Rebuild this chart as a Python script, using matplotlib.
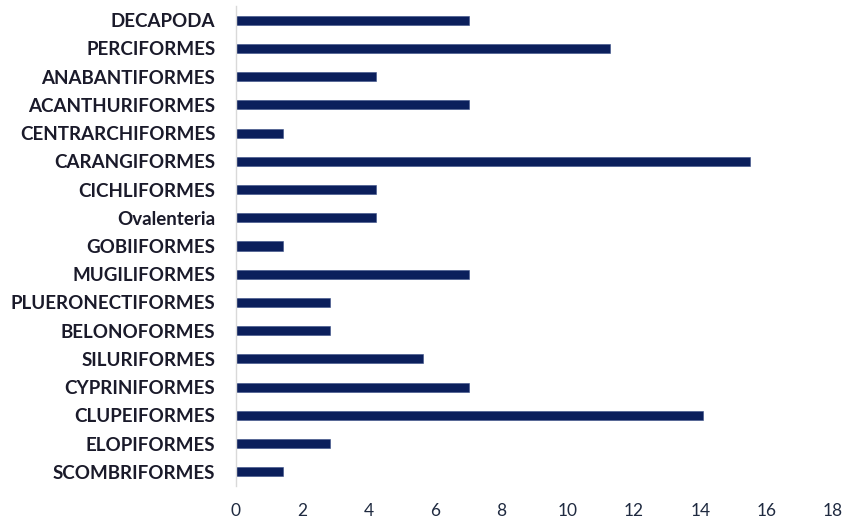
import matplotlib
matplotlib.use("Agg")
import matplotlib.pyplot as plt

categories = ["DECAPODA", "PERCIFORMES", "ANABANTIFORMES", "ACANTHURIFORMES",
              "CENTRARCHIFORMES", "CARANGIFORMES", "CICHLIFORMES", "Ovalenteria",
              "GOBIIFORMES", "MUGILIFORMES", "PLUERONECTIFORMES", "BELONOFORMES",
              "SILURIFORMES", "CYPRINIFORMES", "CLUPEIFORMES", "ELOPIFORMES",
              "SCOMBRIFORMES"]
values = [7.04, 11.27, 4.23, 7.04, 1.41, 15.49, 4.23, 4.23, 1.41, 7.04,
          2.82, 2.82, 5.63, 7.04, 14.08, 2.82, 1.41]
xticks = [0, 2, 4, 6, 8, 10, 12, 14, 16, 18]

fig = plt.figure(figsize=(8.45, 5.25), dpi=100)
ax = fig.add_axes([236/845, 39/525, 597/845, 480/525])

pos = list(range(len(categories)))
ax.barh(pos, values, height=0.32, color="#0b1f5c", edgecolor="#3a4f86", linewidth=0.4)
ax.set_ylim(len(categories) - 0.5, -0.5)
ax.set_xlim(0, 18)
ax.set_yticks(pos)
ax.set_yticklabels(categories, fontfamily="Lato", fontweight="bold", fontsize=13.5, color="#1a1a2a")
ax.set_xticks(xticks)
ax.set_xticklabels([str(t) for t in xticks], fontfamily="Lato", fontsize=12.5, color="#1f2a40")
ax.tick_params(axis="y", length=0, pad=15)
ax.tick_params(axis="x", length=0, pad=12)
for s in ["top", "right", "bottom"]:
    ax.spines[s].set_visible(False)
ax.spines["left"].set_color("#d9d9d9")
ax.spines["left"].set_linewidth(1)

fig.savefig("out.png", dpi=100)
